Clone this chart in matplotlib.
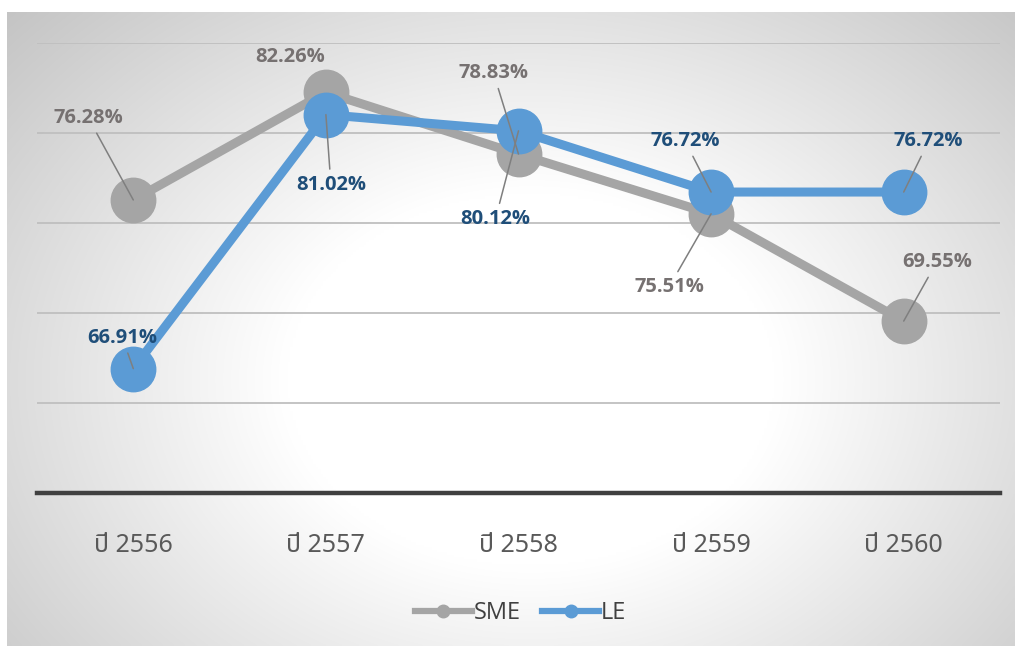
# ========== [IMPORT LIBRARY] ==========
import numpy as np
import matplotlib
matplotlib.use("Agg")
import matplotlib.pyplot as plt
from matplotlib import font_manager
from matplotlib.lines import Line2D

# ========== [DATA] ==========
years = ["ปี 2556", "ปี 2557", "ปี 2558", "ปี 2559", "ปี 2560"]
sme = [76.28, 82.26, 78.83, 75.51, 69.55]
le = [66.91, 81.02, 80.12, 76.72, 76.72]

# posisi label (offset dalam pixel) dan apakah pakai garis penunjuk
sme_off = [(-45, 82), (-36, 35), (-25, 81), (-42, -73), (33, 59)]
le_off = [(-11, 31), (5, -70), (-23, -88), (-26, 51), (25, 51)]
sme_leader = [True, False, True, True, True]
le_leader = [True, True, True, True, True]

SME_COLOR = "#A5A5A5"
LE_COLOR = "#5B9BD5"

# pilih font Thai yang tersedia
installed = {f.name for f in font_manager.fontManager.ttflist}
thai_font = None
for name in ["Noto Sans Thai", "IBM Plex Sans Thai", "Sarabun", "K2D", "Krub", "KoHo", "Kanit"]:
    if name in installed:
        thai_font = name
        break
tick_family = ([thai_font] if thai_font else []) + ["DejaVu Sans"]

# ========== [FIGURE & BACKGROUND] ==========
W, H = 1015, 646
fig = plt.figure(figsize=(W / 100, H / 100), dpi=100)
fig.patch.set_facecolor("white")

# area chart dengan gradasi radial
bg = fig.add_axes([7 / W, 0, 1 - 7 / W, 1 - 12 / H], zorder=0)
gx, gy = np.meshgrid(np.linspace(0, 1, 400), np.linspace(0, 1, 260))
t = np.sqrt(((gx - 0.52) / 0.64) ** 2 + ((gy - 0.58) / 0.78) ** 2)
v = np.clip((t - 0.38) / 0.72, 0, 1)
shade = 1.0 - 0.23 * v
bg.imshow(np.dstack([shade] * 3), aspect="auto", extent=[0, 1, 0, 1],
          interpolation="bilinear")
bg.set_axis_off()

# ========== [PLOT] ==========
ax = fig.add_axes([37 / W, (H - 493) / H, 963 / W, 450 / H], zorder=1)
ax.patch.set_alpha(0)
x = np.arange(len(years))

ax.set_xlim(-0.5, len(years) - 0.5)
ax.set_ylim(60, 85)
for yv in [65, 70, 75, 80, 85]:
    ax.axhline(yv, color="#BFBFBF", lw=1.3, zorder=1)
ax.axhline(60, color="#404040", lw=3.2, zorder=2, clip_on=False)

ax.plot(x, sme, color=SME_COLOR, lw=6.5, marker="o", ms=32, zorder=3)
ax.plot(x, le, color=LE_COLOR, lw=6.5, marker="o", ms=32, zorder=4)

# label data + garis penunjuk
for vals, offs, leads, col in [(sme, sme_off, sme_leader, "#767171"),
                               (le, le_off, le_leader, "#1F4E79")]:
    for i, (val, off, lead) in enumerate(zip(vals, offs, leads)):
        arrow = dict(arrowstyle="-", color="#7F7F7F", lw=1.1, shrinkA=2, shrinkB=0) if lead else None
        ax.annotate(f"{val:.2f}%", xy=(i, val), xytext=off,
                    textcoords="offset pixels", ha="center", va="center",
                    fontsize=14.5, fontweight="bold", family=["Open Sans", "DejaVu Sans"],
                    color=col, zorder=6, annotation_clip=False, arrowprops=arrow)

ax.set_xticks(x)
ax.set_xticklabels(years, family=tick_family, fontsize=18, color="#595959")
ax.tick_params(axis="x", length=0, pad=29)
ax.set_yticks([])
for s in ax.spines.values():
    s.set_visible(False)

# ========== [LEGEND] ==========
handles = [Line2D([], [], color=SME_COLOR, lw=4.5, marker="o", ms=9),
           Line2D([], [], color=LE_COLOR, lw=4.5, marker="o", ms=9)]
fig.legend(handles, ["SME", "LE"], loc="center", bbox_to_anchor=(0.513, (H - 613) / H),
           ncol=2, frameon=False, handlelength=2.4, handletextpad=0.1,
           columnspacing=0.9,
           prop=font_manager.FontProperties(family=["Open Sans", "DejaVu Sans"], size=17),
           labelcolor="#404040")

plt.savefig("out.png", dpi=100)
